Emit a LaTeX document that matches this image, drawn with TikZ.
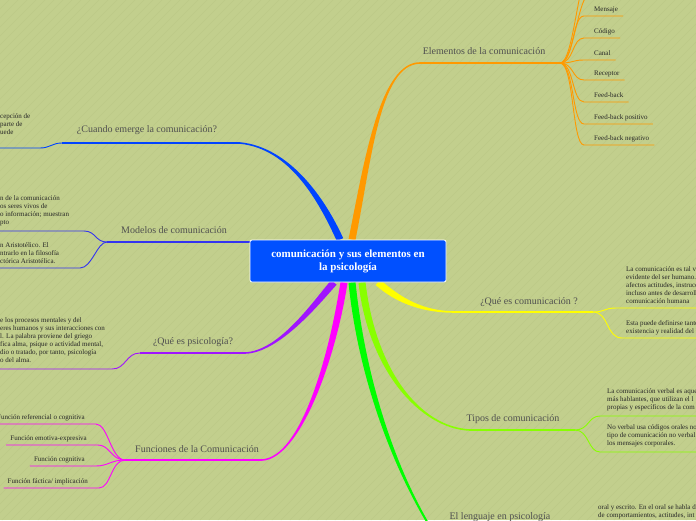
\documentclass[tikz,border=0pt]{standalone}
\usepackage{fontspec}
\setmainfont{Liberation Serif}
\usetikzlibrary{calc, backgrounds}
\definecolor{bgolive}{RGB}{194,207,141}
\definecolor{stripe}{RGB}{188,201,136}
\definecolor{rootblue}{RGB}{0,80,255}
\definecolor{emblue}{RGB}{0,68,255}
\definecolor{modblue}{RGB}{51,51,240}
\definecolor{psypurple}{RGB}{160,20,255}
\definecolor{funmag}{RGB}{255,0,255}
\definecolor{lenggreen}{RGB}{0,255,0}
\definecolor{tiplime}{RGB}{136,255,0}
\definecolor{queyellow}{RGB}{255,255,0}
\definecolor{elorange}{RGB}{255,153,0}
\definecolor{titlegray}{RGB}{80,80,80}

% tapered branch: colour, start, c1, c2, end, start offset, end offset
\newcommand{\taperbranch}[7]{%
  \fill[#1] ($(#2)+(#6)$) .. controls ($(#3)+(#6)$) and ($(#4)+(#7)$) .. ($(#5)+(#7)$)
    -- ($(#5)-(#7)$) .. controls ($(#4)-(#7)$) and ($(#3)-(#6)$) .. ($(#2)-(#6)$) -- cycle;}

\begin{document}
\begin{tikzpicture}[x=1pt, y=-1pt,
  rootbox/.style={rectangle, rounded corners=2pt, draw=white, line width=0.8pt,
                  fill=rootblue, text=white, align=center, inner sep=2pt,
                  font=\fontsize{11}{13}\selectfont\bfseries,
                  minimum width=196pt, minimum height=42pt},
  title/.style={font=\fontsize{10}{12}\selectfont, text=titlegray, inner sep=0pt},
  leaf/.style={font=\fontsize{7}{8}\selectfont, text=black!85, inner xsep=0pt,
               inner ysep=2.5pt, text depth=1.5pt, anchor=south west},
  lleaf/.style={leaf, anchor=south east},
  para/.style={leaf, align=left},
  tline/.style={line width=1.3pt},
  lline/.style={line width=0.9pt}]

  \useasboundingbox (0,0) rectangle (696,520);
  \begin{scope}[on background layer]
    \fill[bgolive] (0,0) rectangle (696,520);
    \foreach \s in {0,9,...,1224}
      \draw[stripe, line width=0.6pt] (\s-520,520) -- (\s,0);
  \end{scope}

  % centre
  \node[rootbox] (root) at (348,261) {comunicación y sus elementos en\\la psicología};

  \begin{scope}[on background layer]
  % Elementos de la comunicación
  \coordinate (os) at ($(root.north)+(4,0)$);
  \coordinate (oe) at (420,63);
  \coordinate (oj) at (560,63);
  \taperbranch{elorange}{os}{368,160}{380,63}{oe}{-3.4,-0.7}{0,-0.8}
  \draw[elorange, tline] (oe) -- (oj);
  \coordinate (ou1) at (590,-28);
  \coordinate (ou2) at (590,-6);
  \draw[elorange, lline] (oj) .. controls +(14,0) and +(-12,0) .. (ou1);
  \draw[elorange, lline] (oj) .. controls +(14,0) and +(-12,0) .. (ou2);

  % ¿Cuando emerge la comunicación?
  \coordinate (bs) at ($(root.north)+(-8,0)$);
  \coordinate (be) at (240,143);
  \coordinate (bj) at (62,143);
  \taperbranch{emblue}{bs}{322,200}{290,148}{be}{-3.2,1.4}{0,0.8}
  \draw[emblue, tline] (be) -- (bj);

  % Modelos de comunicación
  \coordinate (ms) at ($(root.west)+(0,-19)$);
  \coordinate (mj) at (107,242);
  \draw[modblue, tline] (ms) -- (mj);

  % ¿Qué es psicología?
  \coordinate (ps) at ($(root.south)+(-14,0)$);
  \coordinate (pe) at (245,353);
  \coordinate (pj) at (140,353);
  \taperbranch{psypurple}{ps}{318,300}{280,352}{pe}{-2.6,-2.3}{0,-0.8}
  \draw[psypurple, tline] (pe) -- (pj);

  % Funciones de la Comunicación
  \coordinate (fs) at ($(root.south)+(-4,0)$);
  \coordinate (fe) at (262,460);
  \coordinate (fj) at (125,460);
  \taperbranch{funmag}{fs}{332,360}{300,458}{fe}{-3.5,-0.5}{0,-0.8}
  \draw[funmag, tline] (fe) -- (fj);

  % El lenguaje en psicología
  \coordinate (gs) at ($(root.south)+(4,0)$);
  \coordinate (ge) at (432,530);
  \taperbranch{lenggreen}{gs}{362,380}{395,470}{ge}{3.5,-0.35}{0.85,-0.5}

  % Tipos de comunicación
  \coordinate (ts) at ($(root.south)+(14,0)$);
  \coordinate (te) at (470,430);
  \coordinate (tj) at (575,430);
  \taperbranch{tiplime}{ts}{372,370}{420,428}{te}{3.5,-0.4}{0,-0.8}
  \draw[tiplime, tline] (te) -- (tj);

  % ¿Qué es comunicación ?
  \coordinate (ys) at ($(root.south)+(30,0)$);
  \coordinate (ye) at (455,312);
  \coordinate (yj) at (593,312);
  \taperbranch{queyellow}{ys}{400,302}{425,312}{ye}{2.4,-2.6}{0,-0.8}
  \draw[queyellow, tline] (ye) -- (yj);
  \end{scope}

  % titles
  \node[title] (elt) at (484,51) {Elementos de la comunicación};
  \node[title] (cwt) at (147,130) {¿Cuando emerge la comunicación?};
  \node[title] (mot) at (174,230) {Modelos de comunicación};
  \node[title] (pst) at (193,342) {¿Qué es psicología?};
  \node[title] (fut) at (197,449) {Funciones de la Comunicación};
  \node[title] (lgt) at (500,517) {El lenguaje en psicología};
  \node[title] (tit) at (513,419) {Tipos de comunicación};
  \node[title] (qct) at (529,302) {¿Qué es comunicación ?};

  % elementos leaves
  \foreach \n/\y/\t in {msj/16/Mensaje, cod/38/Código, can/60/Canal, rec/80/Receptor,
                        fb/102/Feed-back, fbp/124/Feed-back positivo, fbn/145/Feed-back negativo}{
    \node[leaf] (\n) at (594,\y) {\t};
    \draw[elorange, lline] (oj) .. controls +(14,0) and +(-12,0) .. ([xshift=-10pt]\n.south west)
      -- ([xshift=5pt]\n.south east);
  }

  % cuando leaves
  \node[para, inner ysep=11.5pt] (cwl) at (0,148) {cepción de\\parte de\\uede};
  \draw[emblue, lline] (bj) .. controls +(-10,0) and +(10,0) .. (40,148) -- (cwl.south west);

  % modelos leaves
  \node[para, inner ysep=5pt] (mo1) at (0,231)
    {n de la comunicación\\os seres vivos de\\o información; muestran\\pto};
  \node[para] (mo2) at (0,268) {n Aristotélico. El\\ntrarlo en la filosofía\\ctórica Aristotélica.};
  \draw[modblue, lline] (mj) .. controls +(-12,0) and +(12,0) .. (84,231) -- (mo1.south west);
  \draw[modblue, lline] (mj) .. controls +(-10,0) and +(12,0) .. (80,268) -- (mo2.south west);

  % psicología leaf
  \node[para, inner ysep=4.5pt] (psl) at (0,369)
    {e los procesos mentales y del\\eres humanos y sus interacciones con\\l. La palabra proviene del griego\\fica alma, psique o actividad mental,\\dio o tratado, por tanto, psicología\\o del alma.};
  \draw[psypurple, lline] (pj) .. controls +(-14,0) and +(14,0) .. (112,369) -- (psl.south west);

  % funciones leaves
  \foreach \n/\x/\y/\t in {fref/85/424/{Función referencial o cognitiva}, femo/87/445/{Función emotiva-expresiva},
                           fcog/85/466/{Función cognitiva}, ffac/88/488/{Función fáctica/ implicación}}{
    \node[lleaf] (\n) at (\x,\y) {\t};
    \draw[funmag, lline] (fj) .. controls +(-14,0) and +(12,0) .. ([xshift=11pt]\n.south east)
      -- ([xshift=-4pt]\n.south west);
  }

  % lenguaje leaf
  \node[para] (lg1) at (598,522) {oral y escrito. En el oral se habla d\\de comportamientos, actitudes, int};

  % tipos leaves
  \node[para, inner ysep=5pt] (tv) at (607,416)
    {La comunicación verbal es aque\\más hablantes, que utilizan el l\\propias y específicos de la com};
  \node[para, inner ysep=5pt] (tnv) at (607,452)
    {No verbal usa códigos orales no\\tipo de comunicación no verbal\\los mensajes corporales.};
  \draw[tiplime, lline] (tj) .. controls +(14,0) and +(-12,0) .. ([xshift=-7pt]tv.south west) -- ++(100,0);
  \draw[tiplime, lline] (tj) .. controls +(14,0) and +(-12,0) .. ([xshift=-7pt]tnv.south west) -- ++(100,0);

  % qué es comunicación leaves
  \node[para] (qc1) at (626,308)
    {La comunicación es tal vez u\\evidente del ser humano. Est\\afectos actitudes, instruccion\\incluso antes de desarrollar u\\comunicación humana};
  \node[para] (qc2) at (626,338) {Esta puede definirse tanto co\\existencia y realidad del hom};
  \draw[queyellow, lline] (yj) .. controls +(12,0) and +(-12,0) .. ([xshift=-10pt]qc1.south west) -- ++(100,0);
  \draw[queyellow, lline] (yj) .. controls +(16,0) and +(-16,0) .. ([xshift=-4pt]qc2.south west) -- ++(100,0);
\end{tikzpicture}
\end{document}
